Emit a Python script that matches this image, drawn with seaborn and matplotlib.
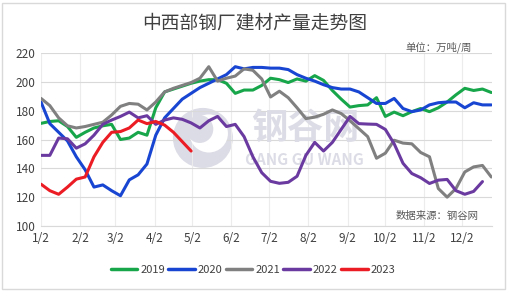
import numpy as np
import pandas as pd
import matplotlib
matplotlib.use("Agg")
import matplotlib.pyplot as plt
import seaborn as sns
from matplotlib.patches import Rectangle, Ellipse
from matplotlib.lines import Line2D

# ---------------- data (weekly, week 0 = Jan 2) ----------------
years = ["2019", "2020", "2021", "2022", "2023"]
v2019 = [171.2, 172.5, 173, 169, 161.5, 165, 168, 169.5, 170.5, 160, 161, 165, 163,
         182, 193, 195, 197, 199, 200.5, 201.5, 201.5, 199, 192, 194.3, 194.3, 197.5,
         202.5, 201.5, 199.5, 202, 200.5, 204.3, 201, 194, 188, 182.5, 183.5, 184, 189,
         176, 179, 176.5, 179.3, 181.5, 179.3, 182, 186, 191, 195.5, 194, 195, 192.6]
v2020 = [186, 171, 165, 159, 148, 139, 127, 128.5, 124.5, 121, 132, 135.5, 143,
         163, 175, 181.5, 188, 192, 196, 199, 202, 205, 210.5, 209, 210, 210,
         209.5, 209.5, 208.5, 205, 202.5, 200.5, 198, 196, 195, 195, 193, 189, 185,
         185, 188.5, 181.5, 179.3, 180.5, 184, 185.5, 186, 186, 182, 185.5, 184, 184]
v2021 = [188.5, 183.5, 175, 169.5, 168, 169, 170.5, 172, 177, 183, 185, 184.5, 180.5,
         186, 193, 195.5, 197.5, 199.5, 202.5, 210.5, 200.5, 202.5, 204, 209, 208, 202,
         189.5, 193.5, 189, 182, 174.5, 175.5, 177.5, 180.5, 178, 173, 167.5, 162, 147,
         150.5, 159.5, 157.5, 157, 151, 148, 126, 120, 126, 137.5, 141, 142, 134]
v2022 = [149, 149, 161, 160.5, 154, 157, 163, 170.5, 173.5, 176, 179, 175, 176.5,
         170.5, 173.5, 175, 174, 171.5, 168, 173, 176, 169, 170.5, 162, 148, 137,
         131, 129.6, 130.3, 134.5, 149, 158, 152, 158, 167, 176, 171, 170.7, 170.5,
         167, 157, 143.5, 136.4, 133.5, 129.5, 131.8, 132.3, 124.5, 122, 124, 130.8]
v2023 = [129, 124.5, 122, 127, 132.5, 134, 148, 158, 165, 165.5, 168, 173.5, 171,
         172.5, 170, 165, 158.5, 152]
month_labels = ["1/2", "2/2", "3/2", "4/2", "5/2", "6/2", "7/2", "8/2", "9/2",
                "10/2", "11/2", "12/2"]
month_day = [1, 32, 60, 91, 121, 152, 182, 213, 244, 274, 305, 335]

series = {"2019": v2019, "2020": v2020, "2021": v2021, "2022": v2022, "2023": v2023}
rows = []
for y, vals in series.items():
    for w, v in enumerate(vals):
        rows.append({"week": w, "value": v, "year": y})
df = pd.DataFrame(rows)

colors = ["#18a64b", "#1846d2", "#808080", "#6b3aa0", "#ec1c24"]

# ---------------- figure ----------------
sns.set_theme(style="white")
plt.rcParams["font.family"] = ["Noto Sans CJK SC", "DejaVu Sans"]

fig = plt.figure(figsize=(5.09, 2.93), dpi=100)
fig.patch.set_facecolor("white")
fig.patches.append(Rectangle((0.004, 0.012), 0.988, 0.978, transform=fig.transFigure,
                             fill=False, edgecolor="#d9d9d9", lw=1.0))

ax = fig.add_axes([41 / 509, 1 - 226 / 293, (492 - 41) / 509, (226 - 53) / 293])

# watermark (logo + text)
wm = "#dcdce6"
ax.add_patch(Ellipse((0.359, 0.509), 0.133, 0.347, transform=ax.transAxes,
                     facecolor=wm, edgecolor="none", zorder=0.5))
ax.add_patch(Ellipse((0.372, 0.535), 0.085, 0.22, transform=ax.transAxes,
                     facecolor="white", edgecolor="none", zorder=0.55))
ax.add_patch(Ellipse((0.352, 0.56), 0.06, 0.16, transform=ax.transAxes,
                     facecolor=wm, edgecolor="none", zorder=0.56))
ax.text(0.585, 0.566, "钢谷网", transform=ax.transAxes, fontsize=26, color=wm,
        ha="center", va="center", zorder=0.6, fontweight="bold")
ax.text(0.583, 0.381, "GANG GU WANG", transform=ax.transAxes, fontsize=11, color=wm,
        ha="center", va="center", zorder=0.6, fontweight="bold")

sns.lineplot(data=df, x="week", y="value", hue="year", hue_order=years,
             palette=colors, linewidth=2.2, ax=ax, legend=False, zorder=3)

ticks = [(d - 1) / 7 for d in month_day]
ax.set_xticks(ticks)
ax.set_xticklabels(month_labels)
ax.set_xlim(0, 51.08)
ax.set_ylim(100, 220)
ax.set_yticks(np.arange(100, 221, 20))
ax.set_xlabel("")
ax.set_ylabel("")
ax.tick_params(axis="both", labelsize=8.5, colors="#404040", length=0, pad=4)
for lab in ax.get_xticklabels() + ax.get_yticklabels():
    lab.set_color("#404040")

ax.grid(True, axis="y", color="#d9d9d9", lw=0.8)
ax.grid(True, axis="x", color="#ececec", lw=0.8)
ax.set_axisbelow(True)
for s in ["top", "right", "left"]:
    ax.spines[s].set_visible(False)
ax.spines["bottom"].set_color("#d9d9d9")
ax.spines["bottom"].set_linewidth(0.8)

fig.text(0.5, 0.922, "中西部钢厂建材产量走势图", ha="center", va="center",
         fontsize=13.5, color="#404040")
ax.text(0.955, 1.035, "单位：万吨/周", transform=ax.transAxes, ha="right", va="center",
        fontsize=7.5, color="#595959")
ax.text(0.97, 0.06, "数据来源：钢谷网", transform=ax.transAxes, ha="right", va="center",
        fontsize=7.5, color="#595959")

handles = [Line2D([0], [0], color=c, lw=2.5) for c in colors]
fig.legend(handles, years, loc="center", bbox_to_anchor=(0.497, 0.078), ncol=5,
           frameon=False, fontsize=8, handlelength=2.4, handletextpad=0.25,
           columnspacing=0.3, labelcolor="#404040", borderpad=0.2)

fig.savefig("out.png", dpi=100, facecolor="white")
